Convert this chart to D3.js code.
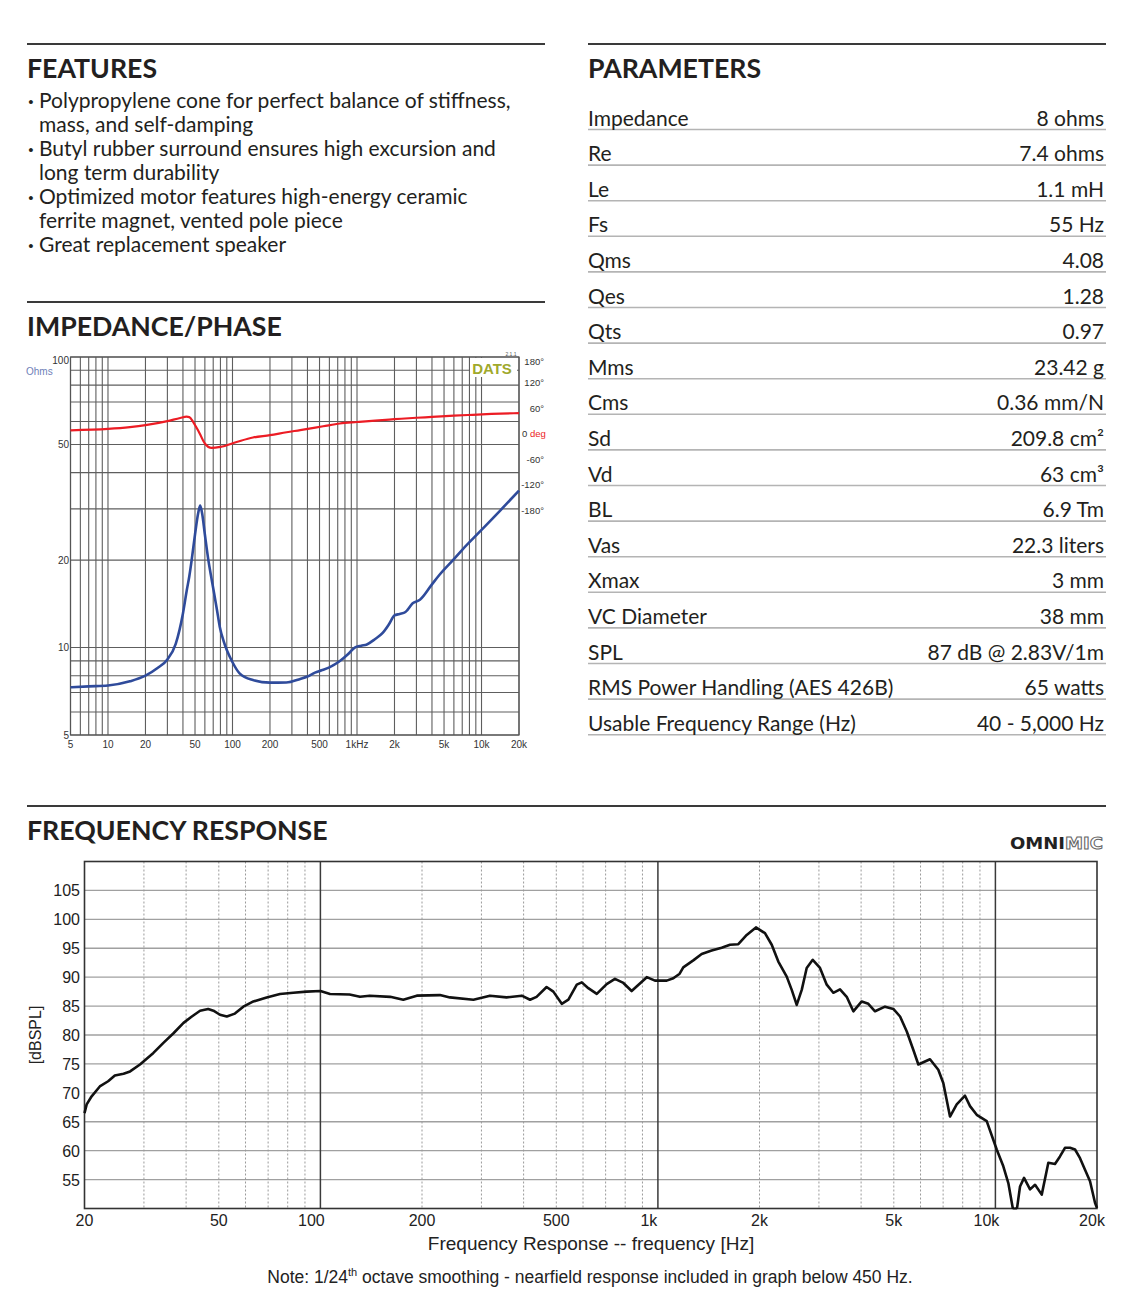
<!DOCTYPE html>
<html>
<head>
<meta charset="utf-8">
<script src="https://cdn.jsdelivr.net/npm/d3@7"></script>
<style>
  body { margin: 0; background: #fff; }
  svg { display: block; }
</style>
</head>
<body>
<div id="display"></div>
<script>

// ---- text blocks ----
const features = [
  ["Polypropylene cone for perfect balance of stiffness,", "mass, and self-damping"],
  ["Butyl rubber surround ensures high excursion and", "long term durability"],
  ["Optimized motor features high-energy ceramic", "ferrite magnet, vented pole piece"],
  ["Great replacement speaker"]
]

const paramNames = ["Impedance", "Re", "Le", "Fs", "Qms", "Qes", "Qts", "Mms", "Cms", "Sd", "Vd",
  "BL", "Vas", "Xmax", "VC Diameter", "SPL", "RMS Power Handling (AES 426B)", "Usable Frequency Range (Hz)"]
const paramValues = ["8 ohms", "7.4 ohms", "1.1 mH", "55 Hz", "4.08", "1.28", "0.97", "23.42 g",
  "0.36 mm/N", "209.8 cm²", "63 cm³", "6.9 Tm", "22.3 liters", "3 mm", "38 mm",
  "87 dB @ 2.83V/1m", "65 watts", "40 - 5,000 Hz"]

// ---- impedance / phase ----
const impFreq = [5, 7, 10, 15, 20, 25, 30, 35, 40, 43, 45, 47, 50, 53, 55, 57, 60, 64, 67, 70, 75, 79, 85, 90,
  100, 114, 146, 200, 270, 350, 400, 460, 520, 600, 720, 850, 960, 1080, 1200, 1400, 1600, 1800, 2000,
  2200, 2450, 2800, 3200, 4000, 4600, 5900, 7000, 10000, 14000, 20000]
const impOhms = [7.3, 7.35, 7.4, 7.65, 8.0, 8.5, 9.1, 10.3, 13.1, 15.8, 17.6, 20, 24.5, 29, 30.8, 29, 24.5, 20,
  17.8, 16.0, 13.5, 11.8, 10.5, 9.8, 8.9, 8.15, 7.73, 7.57, 7.58, 7.8, 7.95, 8.2, 8.35, 8.55, 8.95, 9.5,
  10.0, 10.15, 10.25, 10.7, 11.2, 12.0, 12.9, 13.05, 13.25, 14.2, 14.6, 16.5, 17.8, 20, 21.7, 25.4, 29.5, 34.7]

const phaseFreq = [5, 10, 15, 20, 30, 38, 42.8, 45, 48.4, 54.5, 60, 68, 80, 108, 146, 200, 272, 350, 535,
  728, 1000, 1400, 2000, 3000, 4000, 6000, 8500, 12000, 20000]
const phaseDeg = [7.5, 10.8, 15, 19.5, 29, 36.5, 39.5, 38.5, 27, 0, -23.5, -34, -31.5, -20, -9.4, -4, 3, 8, 17,
  23.5, 27, 30.5, 33.6, 37, 39, 42, 44, 46, 48]

const impXTicks = [5, 10, 20, 50, 100, 200, 500, 1000, 2000, 5000, 10000, 20000]
const impXLabels = ["5", "10", "20", "50", "100", "200", "500", "1kHz", "2k", "5k", "10k", "20k"]
const impYTicks = [5, 10, 20, 50, 100]
const phaseTicks = [180, 120, 60, 0, -60, -120, -180]

// ---- frequency response (OmniMic, 1/24 oct) ----
const frFreq = [20, 20.3, 21.0, 22.2, 23.5, 24.6, 26.1, 27.3, 29.2, 32.0, 34.2, 36.7, 39.3, 41.6, 44.0, 46.5,
  48.2, 50.4, 52.8, 55.8, 59.1, 63.3, 69.3, 75.9, 83.1, 91.1, 100, 106.8, 122, 131, 140, 161, 176, 193,
  226, 242, 284, 318, 356, 395, 418, 437, 468, 490, 519, 543, 575, 595, 622, 659, 705, 746, 790, 836,
  927, 980, 1062, 1111, 1160, 1189, 1273, 1348, 1443, 1545, 1635, 1731, 1833, 1952, 2076, 2174, 2274,
  2408, 2492, 2578, 2668, 2760, 2876, 3022, 3164, 3309, 3464, 3626, 3794, 4017, 4202, 4399, 4709, 4984,
  5218, 5463, 5714, 5912, 6400, 6773, 7008, 7336, 7680, 8127, 8410, 8803, 9424, 10090, 10555, 10922,
  11256, 11450, 11600, 11830, 12158, 12667, 13106, 13718, 14350, 15014, 15536, 16074, 16636, 17215,
  17812, 18430, 19070, 19730, 20000]
const frSpl = [66.5, 68.0, 69.4, 71.1, 72.0, 73.0, 73.3, 73.7, 74.9, 76.9, 78.6, 80.3, 82.1, 83.2, 84.2, 84.5,
  84.2, 83.5, 83.2, 83.7, 84.9, 85.8, 86.5, 87.1, 87.3, 87.5, 87.6, 87.1, 87.0, 86.6, 86.8, 86.6, 86.1, 86.8,
  86.9, 86.5, 86.1, 86.8, 86.5, 86.8, 86.1, 86.6, 88.3, 87.5, 85.4, 86.1, 88.7, 89.1, 88.1, 87.1, 88.8, 89.7,
  89.0, 87.6, 90.0, 89.4, 89.4, 89.8, 90.6, 91.7, 92.9, 94.0, 94.6, 95.1, 95.6, 95.7, 97.3, 98.6, 97.6, 95.6,
  92.7, 90.1, 87.8, 85.2, 87.8, 91.6, 93.0, 91.6, 88.7, 87.3, 87.9, 86.6, 84.1, 85.8, 85.4, 84.1, 84.9, 84.5,
  83.2, 80.6, 77.4, 74.9, 75.8, 74.0, 71.7, 65.9, 68.0, 69.5, 67.7, 66.2, 65.1, 60.2, 57.3, 54.4,
  50.1, 49.8, 50.2, 53.8, 55.3, 53.3, 54.1, 52.4, 57.9, 57.7, 59.0, 60.5, 60.5, 60.2,
  58.7, 56.7, 54.7, 51.0, 50.1]

const frXTicks = [20, 50, 100, 200, 500, 1000, 2000, 5000, 10000, 20000]
const frXLabels = ["20", "50", "100", "200", "500", "1k", "2k", "5k", "10k", "20k"]
const frYTicks = [55, 60, 65, 70, 75, 80, 85, 90, 95, 100, 105]


function sheet(parentNode)
{
  let width = 1131
  let height = 1314
  let ink = "#231f20"
  let body = "Lato, 'Noto Sans', sans-serif"
  let arial = "'Liberation Sans', Arial, sans-serif"

  const svg = d3.create("svg")
      .attr("width", width)
      .attr("height", height)
      .attr("viewBox", [0, 0, width, height])

  // section rules + headings
  const rules = [[27, 545, 44], [588, 1106, 44], [27, 545, 302], [27, 1106, 806]]
  svg.append("g")
      .attr("stroke", "#3a3a3a")
      .attr("stroke-width", 2)
    .selectAll("line")
    .data(rules)
    .join("line")
      .attr("x1", d => d[0]).attr("x2", d => d[1])
      .attr("y1", d => d[2]).attr("y2", d => d[2])

  const heads = [["FEATURES", 27, 78], ["PARAMETERS", 588, 78], ["IMPEDANCE/PHASE", 27, 336], ["FREQUENCY RESPONSE", 27, 840]]
  svg.append("g")
      .attr("font-family", body)
      .attr("font-weight", 700)
      .attr("font-size", 26.7)
      .attr("fill", ink)
    .selectAll("text")
    .data(heads)
    .join("text")
      .attr("x", d => d[1]).attr("y", d => d[2])
      .text(d => d[0])

  // features list
  let fy = 108
  const fg = svg.append("g")
      .attr("font-family", body)
      .attr("font-size", 21)
      .attr("fill", ink)
  features.forEach(item => {
    fg.append("text").attr("x", 28).attr("y", fy).attr("font-weight", 700).text("·")
    item.forEach(line => {
      fg.append("text").attr("x", 39).attr("y", fy).text(line)
      fy += 24
    })
  })

  // parameters table
  const rowY = d3.scaleLinear([0, 1], [129.5, 165.1])
  const pg = svg.append("g")
      .attr("font-family", body)
      .attr("font-size", 21)
      .attr("fill", ink)
    .selectAll("g")
    .data(paramNames)
    .join("g")
      .attr("transform", (d, i) => `translate(0,${rowY(i)})`)
  pg.append("line")
      .attr("x1", 588).attr("x2", 1106)
      .attr("stroke", "#b4b4b4")
      .attr("stroke-width", 1.6)
  pg.append("text")
      .attr("x", 588).attr("y", -4)
      .text(d => d)
  pg.append("text")
      .attr("x", 1104).attr("y", -4)
      .attr("text-anchor", "end")
      .text((d, i) => paramValues[i])

  impedance(svg, arial)
  response(svg, arial)

  parentNode.appendChild(svg.node())
}


function impedance(svg, arial)
{
  let x = d3.scaleLog([5, 20000], [70.5, 519])
  let y = d3.scaleLog([5, 100], [735, 357])
  let yp = d3.scaleLinear([-180, 180], [510, 357])

  const g = svg.append("g")

  g.append("g")
      .attr("stroke", "#5e5e5e")
      .attr("stroke-width", 1.1)
    .call(s => s.selectAll(".v")
      .data(x.ticks())
      .join("line")
        .attr("x1", d => x(d)).attr("x2", d => x(d))
        .attr("y1", y(100)).attr("y2", y(5)))
    .call(s => s.selectAll(".h")
      .data(y.ticks())
      .join("line")
        .attr("x1", x(5)).attr("x2", x(20000))
        .attr("y1", d => y(d)).attr("y2", d => y(d)))

  g.append("rect")
      .attr("x", x(5)).attr("y", y(100))
      .attr("width", x(20000) - x(5)).attr("height", y(5) - y(100))
      .attr("fill", "none")
      .attr("stroke", "#555")
      .attr("stroke-width", 1.2)

  // DATS badge
  g.append("rect")
      .attr("x", 470).attr("y", 358).attr("width", 47).attr("height", 19)
      .attr("fill", "#fff")
  g.append("text")
      .attr("x", 492).attr("y", 374)
      .attr("text-anchor", "middle")
      .attr("font-family", arial).attr("font-weight", 700).attr("font-size", 15)
      .attr("fill", "#a0a92c")
      .text("DATS")
  g.append("text")
      .attr("x", 511).attr("y", 356)
      .attr("text-anchor", "middle")
      .attr("font-family", arial).attr("font-size", 5)
      .attr("fill", "#555")
      .text("2.1.1")

  // curves
  g.append("path")
      .attr("fill", "none")
      .attr("stroke", "#ec1c24")
      .attr("stroke-width", 2.2)
      .attr("d", d3.line().curve(d3.curveMonotoneX)
        .x(d => x(d))
        .y((d, i) => yp(phaseDeg[i]))(phaseFreq))

  g.append("path")
      .attr("fill", "none")
      .attr("stroke", "#2f4b9b")
      .attr("stroke-width", 2.6)
      .attr("d", d3.line().curve(d3.curveMonotoneX)
        .x(d => x(d))
        .y((d, i) => y(impOhms[i]))(impFreq))

  // labels
  const lab = g.append("g")
      .attr("font-family", arial)
      .attr("font-size", 10)
      .attr("fill", "#333")
  lab.selectAll(".xl")
    .data(impXTicks)
    .join("text")
      .attr("x", d => x(d)).attr("y", 748)
      .attr("text-anchor", "middle")
      .text((d, i) => impXLabels[i])
  lab.selectAll(".yl")
    .data(impYTicks)
    .join("text")
      .attr("x", 69).attr("y", d => d === 100 ? y(d) + 7 : y(d) + 3.5)
      .attr("text-anchor", "end")
      .text(d => d)
  lab.append("text")
      .attr("x", 26).attr("y", 375)
      .attr("fill", "#6f7fb8")
      .text("Ohms")

  lab.selectAll(".pl")
    .data(phaseTicks)
    .join("text")
      .attr("font-size", 9.5)
      .attr("x", d => d === 0 ? 522 : 544)
      .attr("y", d => d === 180 ? yp(d) + 8 : yp(d) + 3.5)
      .attr("text-anchor", d => d === 0 ? "start" : "end")
      .call(t => t.filter(d => d !== 0).text(d => d + "°"))
      .call(t => t.filter(d => d === 0)
        .text("0 ")
        .append("tspan").attr("fill", "#ec1c24").text("deg"))
}


function response(svg, arial)
{
  let x = d3.scaleLog([20, 20000], [84.5, 1097])
  let y = d3.scaleLinear([50, 110], [1208.5, 861.5])
  let isDecade = d => Math.abs(Math.log10(d) % 1) < 1e-9

  const g = svg.append("g")

  g.append("g")
      .attr("stroke", "#a0a0a0")
      .attr("stroke-width", 1.4)
    .selectAll("line")
    .data(frYTicks)
    .join("line")
      .attr("x1", x(20)).attr("x2", x(20000))
      .attr("y1", d => y(d)).attr("y2", d => y(d))

  g.append("g")
    .selectAll("line")
    .data(x.ticks().filter(d => d > 20 && d < 20000))
    .join("line")
      .attr("x1", d => x(d)).attr("x2", d => x(d))
      .attr("y1", y(110)).attr("y2", y(50))
      .attr("stroke", d => isDecade(d) ? "#3a3a3a" : "#9a9a9a")
      .attr("stroke-width", d => isDecade(d) ? 1.5 : 1)
      .attr("stroke-dasharray", d => isDecade(d) ? null : "2,2")

  g.append("rect")
      .attr("x", x(20)).attr("y", y(110))
      .attr("width", x(20000) - x(20)).attr("height", y(50) - y(110))
      .attr("fill", "none")
      .attr("stroke", "#333")
      .attr("stroke-width", 1.6)

  g.append("clipPath").attr("id", "frclip")
    .append("rect")
      .attr("x", x(20) - 2).attr("y", y(110))
      .attr("width", x(20000) - x(20) + 4).attr("height", y(50) - y(110) + 1)

  g.append("path")
      .attr("clip-path", "url(#frclip)")
      .attr("fill", "none")
      .attr("stroke", "#111")
      .attr("stroke-width", 2.6)
      .attr("stroke-linejoin", "round")
      .attr("d", d3.line()
        .x(d => x(d))
        .y((d, i) => y(frSpl[i]))(frFreq))

  const lab = g.append("g")
      .attr("font-family", arial)
      .attr("font-size", 16)
      .attr("fill", "#222")
  lab.selectAll(".yl")
    .data(frYTicks)
    .join("text")
      .attr("x", 80).attr("y", d => y(d) + 6)
      .attr("text-anchor", "end")
      .text(d => d)
  lab.selectAll(".xl")
    .data(frXTicks)
    .join("text")
      .attr("x", d => x(d) + (d === 20000 ? -5 : d > 20 && isDecade(d) ? -9 : 0))
      .attr("y", 1226)
      .attr("text-anchor", "middle")
      .text((d, i) => frXLabels[i])
  lab.append("text")
      .attr("transform", "translate(41,1035) rotate(-90)")
      .attr("text-anchor", "middle")
      .attr("font-size", 16)
      .text("[dBSPL]")
  lab.append("text")
      .attr("x", 591).attr("y", 1250)
      .attr("text-anchor", "middle")
      .attr("font-size", 19)
      .text("Frequency Response -- frequency [Hz]")
  const note = lab.append("text")
      .attr("x", 590).attr("y", 1283)
      .attr("text-anchor", "middle")
      .attr("font-size", 17.5)
  note.append("tspan").text("Note: 1/24")
  note.append("tspan").attr("font-size", 11).attr("dy", -7).text("th")
  note.append("tspan").attr("dy", 7).text(" octave smoothing - nearfield response included in graph below 450 Hz.")

  // OmniMic logo
  const logo = g.append("text")
      .attr("x", 1010).attr("y", 849)
      .attr("font-family", "'DejaVu Sans', sans-serif")
      .attr("font-weight", 700)
      .attr("font-size", 15)
      .attr("textLength", 93)
      .attr("lengthAdjust", "spacingAndGlyphs")
  logo.append("tspan").attr("fill", "#222").text("OMNI")
  logo.append("tspan").attr("fill", "#fff").attr("stroke", "#666").attr("stroke-width", 0.9).text("MIC")
}

document.addEventListener("DOMContentLoaded", () => {
  sheet(document.getElementById("display"))
})
</script>
</body>
</html>
